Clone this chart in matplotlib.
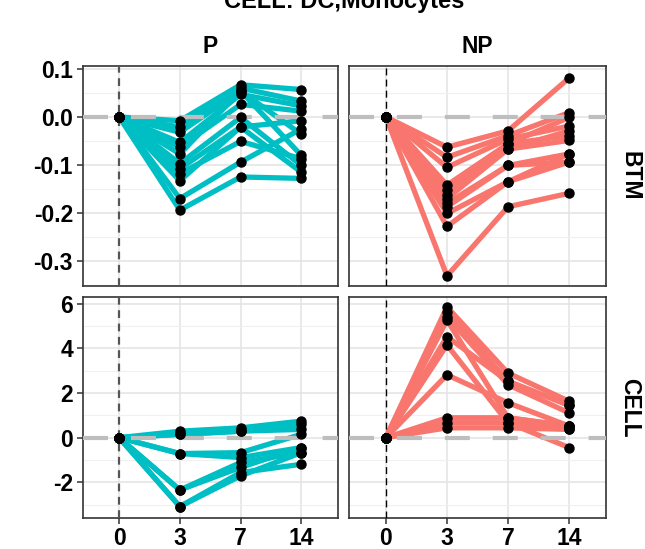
import numpy as np
import matplotlib
matplotlib.use("Agg")
from matplotlib import pyplot as plt
from matplotlib.ticker import MultipleLocator

plt.rcParams['font.family'] = ['Liberation Sans', 'DejaVu Sans']
plt.rcParams['axes.unicode_minus'] = False

#time points (drawn as categories)
days = ["0", "3", "7", "14"]

#P group, BTM score per subject: day 0, 3, 7, 14
p_btm = [
    [0, -0.008, 0.067, 0.057],
    [0, -0.021, 0.060, 0.033],
    [0, -0.032, 0.054, -0.080],
    [0, -0.053, 0.047, 0.023],
    [0, -0.063, 0.026, 0.012],
    [0, -0.077, 0.054, -0.036],
    [0, -0.097, -0.001, -0.101],
    [0, -0.108, -0.021, -0.008],
    [0, -0.118, -0.051, -0.087],
    [0, -0.133, -0.021, -0.115],
    [0, -0.170, -0.094, -0.025],
    [0, -0.194, -0.125, -0.128],
]

#NP group, BTM score
np_btm = [
    [0, -0.063, -0.029, 0.081],
    [0, -0.084, -0.039, 0.009],
    [0, -0.105, -0.046, -0.019],
    [0, -0.142, -0.056, -0.001],
    [0, -0.153, -0.067, -0.029],
    [0, -0.163, -0.056, -0.039],
    [0, -0.170, -0.067, -0.049],
    [0, -0.180, -0.101, -0.077],
    [0, -0.187, -0.101, -0.094],
    [0, -0.201, -0.135, -0.077],
    [0, -0.228, -0.135, -0.094],
    [0, -0.331, -0.187, -0.159],
]

#P group, cell frequency change
p_cell = [
    [0, 0.29, 0.44, 0.74],
    [0, 0.15, 0.29, 0.59],
    [0, 0.15, 0.29, 0.37],
    [0, -0.71, -0.67, 0.15],
    [0, -0.71, -0.89, -0.44],
    [0, -2.34, -1.11, -0.67],
    [0, -2.34, -1.33, -0.44],
    [0, -3.08, -1.56, -1.19],
    [0, -3.08, -1.71, -0.67],
]

#NP group, cell frequency change
np_cell = [
    [0, 5.85, 2.89, 1.63],
    [0, 5.63, 2.52, 1.45],
    [0, 5.40, 2.37, 1.11],
    [0, 5.26, 0.89, 0.52],
    [0, 4.52, 2.52, 1.45],
    [0, 4.15, 0.67, 0.37],
    [0, 2.81, 1.56, 0.52],
    [0, 0.89, 0.89, 0.52],
    [0, 0.67, 0.67, -0.44],
    [0, 0.44, 0.44, 0.37],
]

groups = ["P", "NP"]
rows = ["BTM", "CELL"]
colors = {"P": "#00BFC4", "NP": "#F8766D"}
data = {("BTM", "P"): p_btm, ("BTM", "NP"): np_btm,
        ("CELL", "P"): p_cell, ("CELL", "NP"): np_cell}

W, H = 645, 549
fig = plt.figure(figsize=(W / 100, H / 100), dpi=100)

#panel boxes in pixels: left, right / top, bottom
cols_px = [(82.7, 337.7), (349.3, 605.7)]
rows_px = [(66, 286), (297.3, 517.7)]
ylims = {"BTM": (-0.352, 0.106), "CELL": (-3.58, 6.28)}
ystep = {"BTM": (0.1, 0.05), "CELL": (2, 1)}

x = np.arange(len(days))
for r, row in enumerate(rows):
    for c, grp in enumerate(groups):
        x0, x1 = cols_px[c]
        t, b = rows_px[r]
        ax = fig.add_axes([x0 / W, 1 - b / H, (x1 - x0) / W, (b - t) / H])
        for subj in data[(row, grp)]:
            ax.plot(x, subj, color=colors[grp], lw=3.8, solid_capstyle="round", zorder=3)
        ax.axhline(0, color="#BEBEBE", lw=3, ls=(0, (6, 5.5)), zorder=4)
        if grp == "P":
            ax.axvline(0, color="#555555", lw=1.6, ls=(0, (3.5, 2.5)), zorder=4)
        else:
            ax.axvline(0, color="black", lw=1.0, ls=(0, (5, 3)), zorder=4)
        for subj in data[(row, grp)]:
            ax.plot(x, subj, "o", color="black", ms=6.5, zorder=5, ls="none")

        ax.set_xlim(-0.6, 3.6)
        ax.set_ylim(*ylims[row])
        ax.set_xticks(x)
        ax.yaxis.set_major_locator(MultipleLocator(ystep[row][0]))
        ax.yaxis.set_minor_locator(MultipleLocator(ystep[row][1]))
        ax.grid(True, which="major", color="#E3E3E3", lw=1.1, zorder=0)
        ax.grid(True, which="minor", axis="y", color="#F0F0F0", lw=0.8, zorder=0)
        ax.set_axisbelow(True)
        for s in ax.spines.values():
            s.set_color("#333333")
            s.set_linewidth(1.2)
        ax.tick_params(which="minor", length=0)
        ax.tick_params(which="major", length=4, width=1.1, color="#333333", pad=3)

        if c == 0:
            if row == "BTM":
                ticks = [t_ for t_ in ax.get_yticks() if ylims[row][0] <= t_ <= ylims[row][1]]
                ax.set_yticks(ticks)
                ax.set_yticklabels(["%.1f" % (0.0 if abs(v) < 1e-9 else v) for v in ticks])
            for lab in ax.get_yticklabels():
                lab.set_fontsize(16.5)
                lab.set_fontweight("bold")
        else:
            ax.tick_params(axis="y", which="both", left=False, labelleft=False)

        if r == 1:
            ax.set_xticklabels(days, fontsize=16.5, fontweight="bold")
        else:
            ax.tick_params(axis="x", bottom=False, labelbottom=False)

        #facet strips
        if r == 0:
            ax.text(0.5, 1.035, grp, transform=ax.transAxes, ha="center", va="bottom",
                    fontsize=16.5, fontweight="bold")
        if c == 1:
            ax.text(1.05, 0.5, row, transform=ax.transAxes, ha="left", va="center",
                    rotation=-90, fontsize=16.5, fontweight="bold")

fig.text(344 / W, 1 - 8 / H, "CELL: DC,Monocytes", ha="center", va="baseline",
         fontsize=17, fontweight="bold")

fig.savefig("out.png", dpi=100, facecolor="white")
